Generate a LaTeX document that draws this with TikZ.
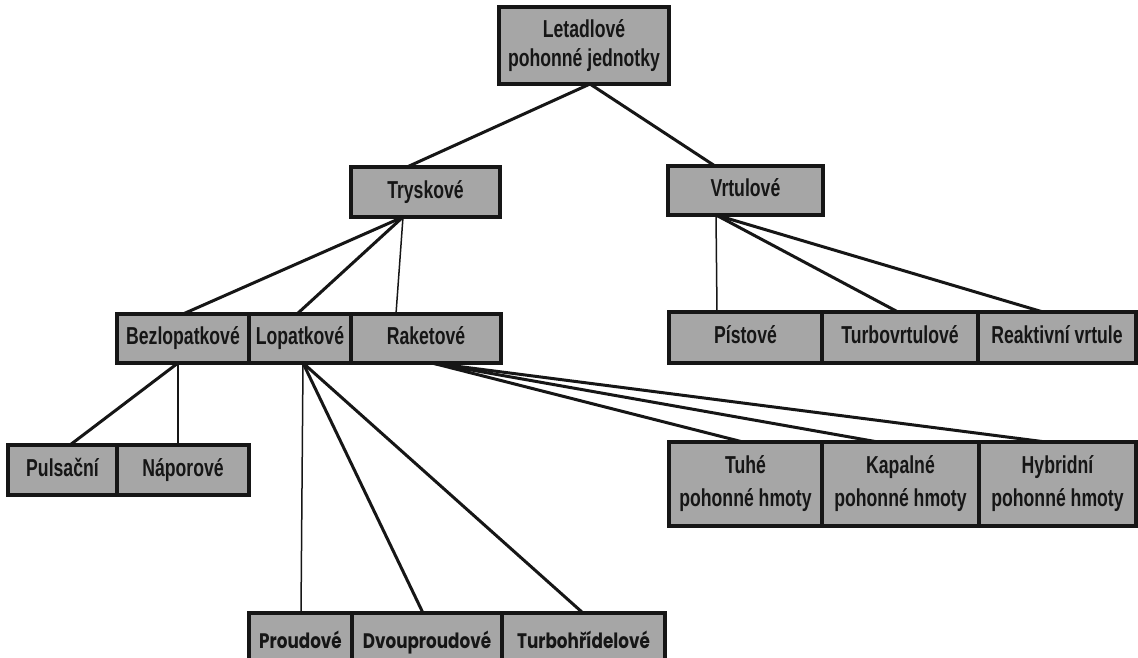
\documentclass[tikz,border=0pt]{standalone}
\usepackage{fontspec}
\newfontfamily\boxfont{Liberation Sans}[FakeStretch=0.72]
\newfontfamily\geofont{Poppins}[FakeStretch=0.8]
\usetikzlibrary{calc,backgrounds}
\definecolor{boxgray}{HTML}{A6A6A6}
\definecolor{inkc}{HTML}{161616}
\tikzset{
  boxbase/.style={draw=inkc, line width=3.4pt, fill=boxgray, text=inkc,
    inner sep=0pt, outer sep=0pt, align=center},
  box/.style={boxbase, text height=17pt, text depth=5pt,
    font=\boxfont\bfseries\fontsize{24.5}{31}\selectfont},
  twobox/.style={boxbase,
    font=\boxfont\bfseries\fontsize{24.5}{#1}\selectfont},
  geobox/.style={boxbase, text height=18pt, text depth=4pt,
    font=\geofont\bfseries\fontsize{21}{26}\selectfont},
  thick line/.style={draw=inkc, line width=3pt},
  thin line/.style={draw=inkc, line width=1.5pt},
}
\begin{document}
\begin{tikzpicture}[x=1pt,y=-1pt]
\useasboundingbox (0,0) rectangle (1138,657);
% level 0
\node[twobox=29, minimum width=170, minimum height=77] (top) at (584,45.5) {Letadlové\\pohonné jednotky};
% level 1
\node[box, minimum width=149, minimum height=50] (tr) at (425.5,192) {Tryskové};
\node[box, minimum width=155, minimum height=49] (vr) at (745.5,190.5) {Vrtulové};
% level 2 left
\node[box, minimum width=132, minimum height=49] (bez) at (183,338.5) {Bezlopatkové};
\node[box, minimum width=102, minimum height=49] (lop) at (300,338.5) {Lopatkové};
\node[box, minimum width=150, minimum height=49] (rak) at (426,338.5) {Raketové};
% level 2 right
\node[box, minimum width=153, minimum height=51] (pis) at (745.5,337.5) {Pístové};
\node[box, minimum width=156, minimum height=51] (tvr) at (900,337.5) {Turbovrtulové};
\node[box, minimum width=158, minimum height=51] (rea) at (1057,337.5) {Reaktivní vrtule};
% level 3
\node[box, minimum width=109, minimum height=50] (pul) at (62.5,470) {Pulsační};
\node[box, minimum width=132, minimum height=50] (nap) at (183,470) {Náporové};
\node[twobox=33, minimum width=153, minimum height=84] (tuh) at (745.5,484) {Tuhé\\pohonné hmoty};
\node[twobox=33, minimum width=157, minimum height=84] (kap) at (900.5,484) {Kapalné\\pohonné hmoty};
\node[twobox=33, minimum width=157, minimum height=84] (hyb) at (1057.5,484) {Hybridní\\pohonné hmoty};
% level 4
\node[geobox, minimum width=103, minimum height=56] (pro) at (300.5,641) {Proudové};
\node[geobox, minimum width=150, minimum height=56] (dvo) at (427,641) {Dvouproudové};
\node[geobox, minimum width=163, minimum height=56] (tbh) at (583.5,641) {Turbohřídelové};
\begin{pgfonlayer}{background}
\fill[white] (0,0) rectangle (1138,657);
\draw[thick line] ($(top.south)+(6,0)$) -- ($(tr.north)+(-18.5,0)$);
\draw[thick line] ($(top.south)+(6,0)$) -- ($(vr.north)+(-30.5,0)$);
\draw[thick line] ($(tr.south)+(-22.5,0)$) -- ($(bez.north)+(0,0)$);
\draw[thick line] ($(tr.south)+(-22.5,0)$) -- ($(lop.north)+(-3,0)$);
\draw[thin line] ($(tr.south)+(-22.5,0)$) -- ($(rak.north)+(-30,0)$);
\draw[thin line] ($(vr.south)+(-29.5,0)$) -- ($(pis.north)+(-28.5,0)$);
\draw[thick line] ($(vr.south)+(-29.5,0)$) -- ($(tvr.north)+(-2,0)$);
\draw[thick line] ($(vr.south)+(-29.5,0)$) -- ($(rea.north)+(-14,0)$);
\draw[thick line] ($(bez.south)+(-5,0)$) -- ($(pul.north)+(7.5,0)$);
\draw[thin line] ($(bez.south)+(-5,0)$) -- ($(nap.north)+(-5,0)$);
\draw[thin line] ($(lop.south)+(3,0)$) -- ($(pro.north)+(0.5,0)$);
\draw[thick line] ($(lop.south)+(3,0)$) -- ($(dvo.north)+(-4,0)$);
\draw[thick line] ($(lop.south)+(3,0)$) -- ($(tbh.north)+(-0.5,0)$);
\draw[thick line] ($(rak.south)+(6,0)$) -- ($(tuh.north)+(-2.5,0)$);
\draw[thick line] ($(rak.south)+(6,0)$) -- ($(kap.north)+(-22.5,0)$);
\draw[thick line] ($(rak.south)+(6,0)$) -- ($(hyb.north)+(-11.5,0)$);
\end{pgfonlayer}
\end{tikzpicture}
\end{document}
